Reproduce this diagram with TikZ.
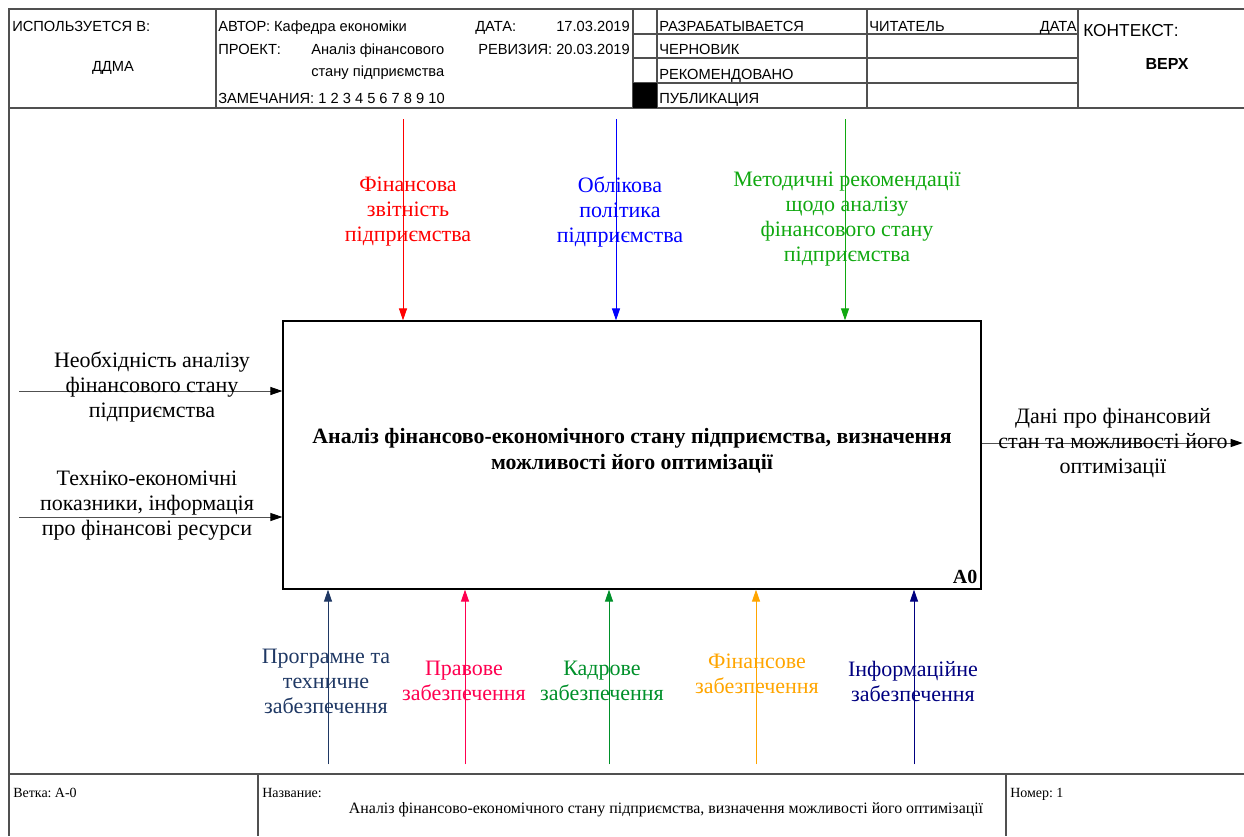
\documentclass[tikz,border=0pt]{standalone}
\usepackage{fontspec}
\setmainfont{Liberation Serif}
\setsansfont{Liberation Sans}
\usetikzlibrary{arrows.meta}
\definecolor{cRed}{HTML}{FF0000}
\definecolor{cBlue}{HTML}{0000FF}
\definecolor{cGreenT}{HTML}{10A810}
\definecolor{cNavyD}{HTML}{1F3864}
\definecolor{cCrim}{HTML}{FF0050}
\definecolor{cGreenB}{HTML}{00902A}
\definecolor{cOrange}{HTML}{FFA500}
\definecolor{cNavy}{HTML}{000080}
\definecolor{cFrame}{HTML}{505050}
\begin{document}
\begin{tikzpicture}[x=0.75pt,y=-0.75pt,
  frame/.style={draw=cFrame,line width=0.9pt},
  hdr/.style={font=\sffamily\fontsize{11}{13}\selectfont,inner sep=0pt,anchor=base west},
  ftr/.style={font=\fontsize{10.5}{12}\selectfont,inner sep=0pt,anchor=base west},
  lbl/.style={font=\fontsize{16.5}{18.75}\selectfont,align=center,inner sep=0pt},
  flow/.style={line width=0.75pt,-{Triangle[length=9pt,width=6pt]}},
  flowk/.style={line width=0.75pt,-{Triangle[length=9pt,width=6pt,black]}},
  mainbox/.style={draw=black,line width=0.9pt,minimum width=523.5pt,minimum height=201pt,inner sep=0pt}
]
\useasboundingbox (0,0) rectangle (1244,836);
% frame
\draw[frame] (1244,9) -- (9,9) -- (9,836);
\draw[frame] (9,108) -- (1244,108);
\draw[frame] (9,774) -- (1244,774);
\foreach \xx in {216,633,657,867,1078} \draw[frame] (\xx,9) -- (\xx,108);
\foreach \yy in {34,58,83} \draw[frame] (633,\yy) -- (1078,\yy);
\fill[black] (633,83) rectangle (657,108);
\draw[frame] (258,774) -- (258,836);
\draw[frame] (1006,774) -- (1006,836);
% header texts
\node[hdr] (h1) at (12,31) {ИСПОЛЬЗУЕТСЯ В:};
\node[hdr,anchor=center] (h2) at (113,68) {ДДМА};
\node[hdr] (h3) at (218,31) {АВТОР: Кафедра економіки};
\node[hdr] (h4) at (475,31) {ДАТА:};
\node[hdr,anchor=base east] (h5) at (630,31) {17.03.2019};
\node[hdr] (h6) at (218,54) {ПРОЕКТ:};
\node[hdr] (h7) at (311,54) {Аналіз фінансового};
\node[hdr] (h8) at (311,76) {стану підприємства};
\node[hdr,anchor=base east] (h9) at (630,54) {РЕВИЗИЯ: 20.03.2019};
\node[hdr] (h10) at (218,103) {ЗАМЕЧАНИЯ: 1 2 3 4 5 6 7 8 9 10};
\node[hdr] (h11) at (659,31) {РАЗРАБАТЫВАЕТСЯ};
\node[hdr] (h12) at (869,31) {ЧИТАТЕЛЬ};
\node[hdr,anchor=base east] (h13) at (1077,31) {ДАТА};
\node[hdr] (h14) at (659,54) {ЧЕРНОВИК};
\node[hdr] (h15) at (659,79) {РЕКОМЕНДОВАНО};
\node[hdr] (h16) at (659,103) {ПУБЛИКАЦИЯ};
\node[hdr,font=\sffamily\fontsize{13}{15}\selectfont] (h17) at (1083,36) {КОНТЕКСТ:};
\node[hdr,anchor=center,font=\sffamily\bfseries\fontsize{12}{14}\selectfont] (h18) at (1167,64) {ВЕРХ};
% footer texts
\node[ftr] (f1) at (13,797) {Ветка:\kern2.5pt А-0};
\node[ftr] (f2) at (262,797) {Название:};
\node[ftr] (f3) at (1010,797) {Номер:\kern2.5pt 1};
\node[ftr,anchor=base,font=\fontsize{11.9}{14}\selectfont] (f4) at (666,813) {Аналіз фінансово-економічного стану підприємства, визначення можливості його оптимізації};
% main box
\node[mainbox] (box) at (632,455) {};
\node[font=\bfseries\fontsize{16.4}{19.5}\selectfont,align=center,inner sep=0pt] (boxtxt) at (632,451) {Аналіз фінансово-економічного стану підприємства, визначення\\можливості його оптимізації};
\node[font=\bfseries\fontsize{15}{17}\selectfont,anchor=south east,inner sep=0pt] (a0) at ([xshift=-3pt,yshift=4pt]box.south east) {A0};
% controls (top)
\coordinate (t1) at (403,119);
\coordinate (t2) at (616,119);
\coordinate (t3) at (845,119);
\draw[flow,draw=cRed,fill=cRed] (t1) -- (t1 |- box.north);
\draw[flow,draw=cBlue,fill=cBlue] (t2) -- (t2 |- box.north);
\draw[flow,draw=cGreenT,fill=cGreenT] (t3) -- (t3 |- box.north);
\node[lbl,text=cRed] (l1) at (408,212) {Фінансова\\звітність\\підприємства};
\node[lbl,text=cBlue] (l2) at (620,212) {Облікова\\політика\\підприємства};
\node[lbl,text=cGreenT] (l3) at (847,219) {Методичні рекомендації\\щодо аналізу\\фінансового стану\\підприємства};
% inputs
\coordinate (i1) at (19,391);
\coordinate (i2) at (19,517);
\draw[flowk,draw=cFrame] (i1) -- (i1 -| box.west);
\draw[flowk,draw=cFrame] (i2) -- (i2 -| box.west);
\node[lbl] (l4) at (152,387) {Необхідність аналізу\\фінансового стану\\підприємства};
\node[lbl] (l5) at (147,506) {Техніко-економічні\\показники, інформація\\про фінансові ресурси};
% output
\coordinate (o1) at (1244,443);
\draw[flowk,draw=cFrame,shorten >=1pt] (box.east |- o1) -- (o1);
\node[lbl] (l6) at (1113,443) {Дані про фінансовий\\стан та можливості його\\оптимізації};
% mechanisms (bottom)
\coordinate (b1) at (328,764);
\coordinate (b2) at (465,764);
\coordinate (b3) at (609,764);
\coordinate (b4) at (756,764);
\coordinate (b5) at (914,764);
\draw[flow,draw=cNavyD,fill=cNavyD] (b1) -- (b1 |- box.south);
\draw[flow,draw=cCrim,fill=cCrim] (b2) -- (b2 |- box.south);
\draw[flow,draw=cGreenB,fill=cGreenB] (b3) -- (b3 |- box.south);
\draw[flow,draw=cOrange,fill=cOrange] (b4) -- (b4 |- box.south);
\draw[flow,draw=cNavy,fill=cNavy] (b5) -- (b5 |- box.south);
\node[lbl,text=cNavyD] (l7) at (326,681) {Програмне та\\техничне\\забезпечення};
\node[lbl,text=cCrim] (l8) at (464,681) {Правове\\забезпечення};
\node[lbl,text=cGreenB] (l9) at (602,681) {Кадрове\\забезпечення};
\node[lbl,text=cOrange] (l10) at (757,674) {Фінансове\\забезпечення};
\node[lbl,text=cNavy] (l11) at (913,681) {Інформаційне\\забезпечення};
\end{tikzpicture}
\end{document}
